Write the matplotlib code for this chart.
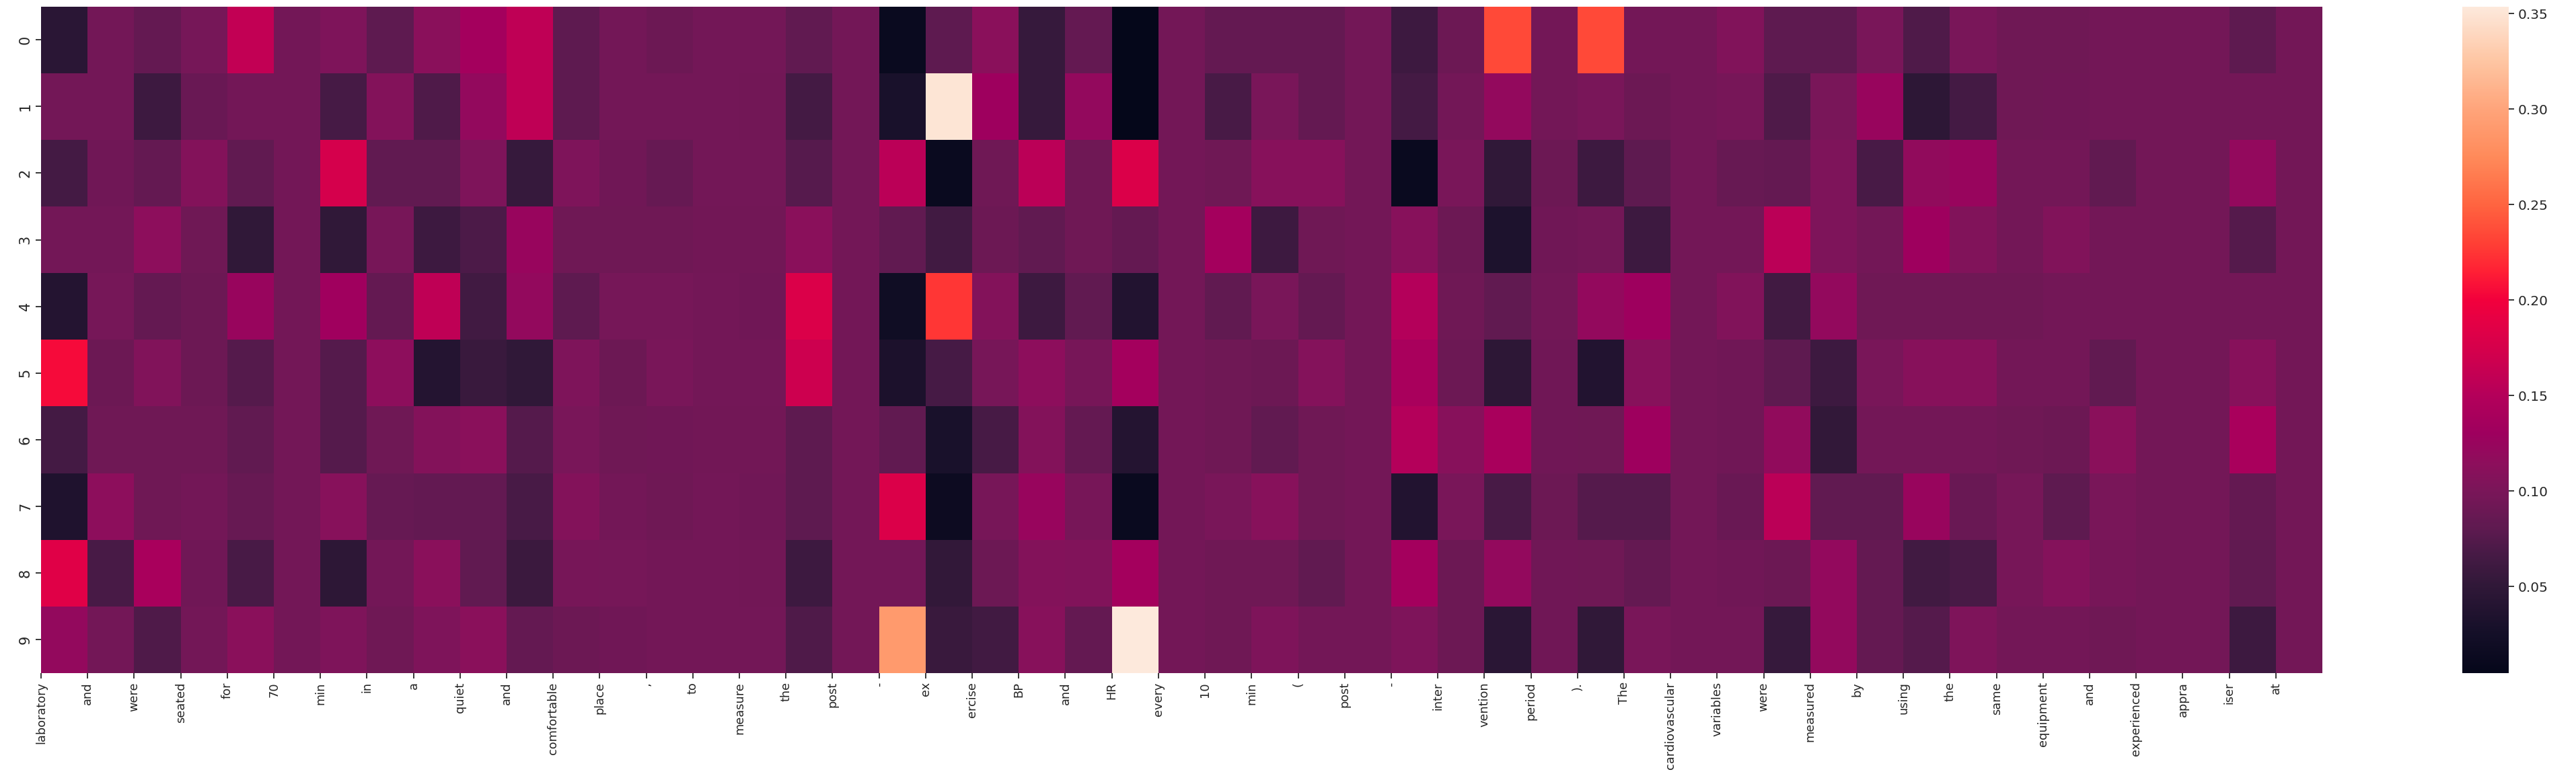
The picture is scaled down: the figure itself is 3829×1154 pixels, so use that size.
import numpy as np
import matplotlib
matplotlib.use("Agg")
import matplotlib.pyplot as plt
from matplotlib.colors import LinearSegmentedColormap
import seaborn as sns

tokens = ["laboratory", "and", "were", "seated", "for", "70", "min", "in", "a", "quiet",
          "and", "comfortable", "place", ",", "to", "measure", "the", "post", "-", "ex",
          "ercise", "BP", "and", "HR", "every", "10", "min", "(", "post", "-",
          "inter", "vention", "period", ").", "The", "cardiovascular", "variables", "were", "measured", "by",
          "using", "the", "same", "equipment", "and", "experienced", "appra", "iser", "at"]

row_labels = ["0", "1", "2", "3", "4", "5", "6", "7", "8", "9"]

row_0 = [0.045, 0.095, 0.085, 0.097, 0.160, 0.095, 0.103, 0.080, 0.112, 0.135,
         0.158, 0.080, 0.095, 0.090, 0.095, 0.095, 0.083, 0.095, 0.012, 0.080,
         0.112, 0.055, 0.085, 0.0046, 0.095, 0.085, 0.085, 0.085, 0.095, 0.060,
         0.090, 0.235, 0.095, 0.235, 0.095, 0.095, 0.105, 0.080, 0.080, 0.100,
         0.072, 0.100, 0.092, 0.092, 0.095, 0.095, 0.095, 0.080, 0.095]
row_1 = [0.095, 0.095, 0.060, 0.088, 0.095, 0.095, 0.066, 0.107, 0.072, 0.120,
         0.158, 0.080, 0.095, 0.095, 0.095, 0.094, 0.065, 0.095, 0.030, 0.350,
         0.130, 0.055, 0.120, 0.0046, 0.095, 0.068, 0.100, 0.085, 0.095, 0.065,
         0.095, 0.120, 0.095, 0.100, 0.090, 0.095, 0.098, 0.072, 0.100, 0.125,
         0.048, 0.065, 0.092, 0.093, 0.095, 0.095, 0.095, 0.095, 0.095]
row_2 = [0.065, 0.093, 0.085, 0.107, 0.083, 0.095, 0.175, 0.083, 0.083, 0.103,
         0.055, 0.103, 0.093, 0.086, 0.095, 0.095, 0.076, 0.095, 0.155, 0.012,
         0.092, 0.155, 0.092, 0.180, 0.095, 0.092, 0.110, 0.110, 0.095, 0.012,
         0.100, 0.050, 0.090, 0.060, 0.080, 0.095, 0.087, 0.085, 0.103, 0.068,
         0.118, 0.125, 0.095, 0.095, 0.083, 0.095, 0.095, 0.120, 0.095]
row_3 = [0.095, 0.095, 0.115, 0.092, 0.050, 0.095, 0.050, 0.098, 0.060, 0.070,
         0.125, 0.092, 0.092, 0.092, 0.094, 0.094, 0.112, 0.095, 0.083, 0.063,
         0.090, 0.083, 0.092, 0.085, 0.095, 0.135, 0.060, 0.092, 0.095, 0.110,
         0.090, 0.033, 0.093, 0.095, 0.060, 0.095, 0.095, 0.155, 0.103, 0.095,
         0.130, 0.105, 0.095, 0.105, 0.095, 0.095, 0.095, 0.075, 0.095]
row_4 = [0.040, 0.097, 0.085, 0.090, 0.125, 0.095, 0.132, 0.085, 0.158, 0.063,
         0.120, 0.080, 0.097, 0.097, 0.095, 0.093, 0.180, 0.095, 0.020, 0.225,
         0.107, 0.060, 0.083, 0.038, 0.095, 0.083, 0.100, 0.085, 0.095, 0.150,
         0.092, 0.083, 0.095, 0.120, 0.130, 0.095, 0.105, 0.063, 0.120, 0.092,
         0.092, 0.092, 0.092, 0.095, 0.095, 0.095, 0.095, 0.095, 0.095]
row_5 = [0.205, 0.090, 0.105, 0.090, 0.075, 0.095, 0.075, 0.115, 0.040, 0.057,
         0.050, 0.103, 0.090, 0.100, 0.095, 0.095, 0.168, 0.095, 0.032, 0.066,
         0.098, 0.115, 0.098, 0.135, 0.095, 0.092, 0.090, 0.108, 0.095, 0.140,
         0.090, 0.048, 0.093, 0.038, 0.110, 0.095, 0.093, 0.080, 0.060, 0.100,
         0.110, 0.110, 0.095, 0.095, 0.083, 0.095, 0.095, 0.110, 0.095]
row_6 = [0.065, 0.092, 0.092, 0.092, 0.082, 0.095, 0.075, 0.092, 0.107, 0.112,
         0.075, 0.100, 0.092, 0.093, 0.094, 0.094, 0.080, 0.095, 0.083, 0.030,
         0.067, 0.107, 0.085, 0.040, 0.095, 0.092, 0.082, 0.092, 0.095, 0.150,
         0.110, 0.140, 0.093, 0.092, 0.130, 0.095, 0.093, 0.118, 0.052, 0.095,
         0.095, 0.095, 0.092, 0.090, 0.112, 0.095, 0.095, 0.140, 0.095]
row_7 = [0.035, 0.115, 0.092, 0.095, 0.087, 0.095, 0.110, 0.086, 0.084, 0.084,
         0.068, 0.107, 0.095, 0.092, 0.095, 0.093, 0.080, 0.095, 0.180, 0.015,
         0.098, 0.125, 0.098, 0.012, 0.095, 0.100, 0.110, 0.092, 0.095, 0.038,
         0.100, 0.068, 0.090, 0.075, 0.075, 0.095, 0.088, 0.155, 0.083, 0.083,
         0.125, 0.088, 0.097, 0.080, 0.100, 0.095, 0.095, 0.085, 0.095]
row_8 = [0.185, 0.068, 0.140, 0.093, 0.068, 0.095, 0.048, 0.095, 0.112, 0.082,
         0.058, 0.098, 0.097, 0.095, 0.095, 0.094, 0.060, 0.095, 0.095, 0.052,
         0.090, 0.107, 0.105, 0.135, 0.095, 0.092, 0.092, 0.083, 0.095, 0.135,
         0.090, 0.120, 0.093, 0.092, 0.085, 0.095, 0.093, 0.090, 0.120, 0.085,
         0.063, 0.068, 0.098, 0.108, 0.098, 0.095, 0.095, 0.083, 0.095]
row_9 = [0.120, 0.095, 0.072, 0.095, 0.112, 0.095, 0.103, 0.092, 0.103, 0.112,
         0.085, 0.090, 0.093, 0.095, 0.095, 0.095, 0.072, 0.095, 0.290, 0.057,
         0.063, 0.110, 0.085, 0.3537, 0.095, 0.092, 0.103, 0.095, 0.095, 0.103,
         0.090, 0.045, 0.093, 0.050, 0.100, 0.095, 0.095, 0.055, 0.120, 0.085,
         0.075, 0.103, 0.095, 0.095, 0.092, 0.095, 0.095, 0.060, 0.095]

cbar_ticks = [0.05, 0.10, 0.15, 0.20, 0.25, 0.30, 0.35]

data = np.array([row_0, row_1, row_2, row_3, row_4, row_5, row_6, row_7, row_8, row_9])
vmin, vmax = data.min(), data.max()

# colour anchors (value -> colour) as seen on the reference colour bar
anchor_vals = [0.0046, 0.025, 0.05, 0.065, 0.08, 0.10, 0.115, 0.13, 0.15, 0.17,
               0.19, 0.20, 0.215, 0.23, 0.25, 0.275, 0.30, 0.325, 0.3537]
anchor_cols = ["#05071a", "#140f28", "#301838", "#441a44", "#5e1a50", "#7a1659",
               "#8e0e5c", "#9e005e", "#b4005a", "#d0004e", "#e60044", "#f2003c",
               "#ff2035", "#ff4035", "#ff6440", "#ff8a5a", "#ffa47a", "#fec5a2", "#fde9dc"]
pos = [(v - vmin) / (vmax - vmin) for v in anchor_vals]
pos[0], pos[-1] = 0.0, 1.0
cmap = LinearSegmentedColormap.from_list("rocket_vivid", list(zip(pos, anchor_cols)), N=512)

W, H = 3830, 1154
fig = plt.figure(figsize=(W / 100, H / 100), dpi=100)
ax = fig.add_axes([61 / W, 1 - 1001 / H, (3452 - 61) / W, (1001 - 9.5) / H])
cax = fig.add_axes([3660 / W, 1 - 1001 / H, 69 / W, (1001 - 9.5) / H])

sns.heatmap(data, ax=ax, cbar_ax=cax, cmap=cmap, vmin=vmin, vmax=vmax)

ax.set_xticks(np.arange(len(tokens)))
ax.set_xticklabels(tokens, rotation=90, fontsize=12.8, color="#262626")
ax.set_yticks(np.arange(len(row_labels)) + 0.5)
ax.set_yticklabels(row_labels, rotation=90, va="center", fontsize=15, color="#262626")
ax.tick_params(axis="both", length=6, width=1.3, color="#262626")

cax.set_yticks(cbar_ticks)
cax.set_yticklabels([f"{t:.2f}" for t in cbar_ticks])
cax.tick_params(labelsize=14.5, length=6, width=1.3, colors="#262626")

fig.savefig("out.png", dpi=100)
